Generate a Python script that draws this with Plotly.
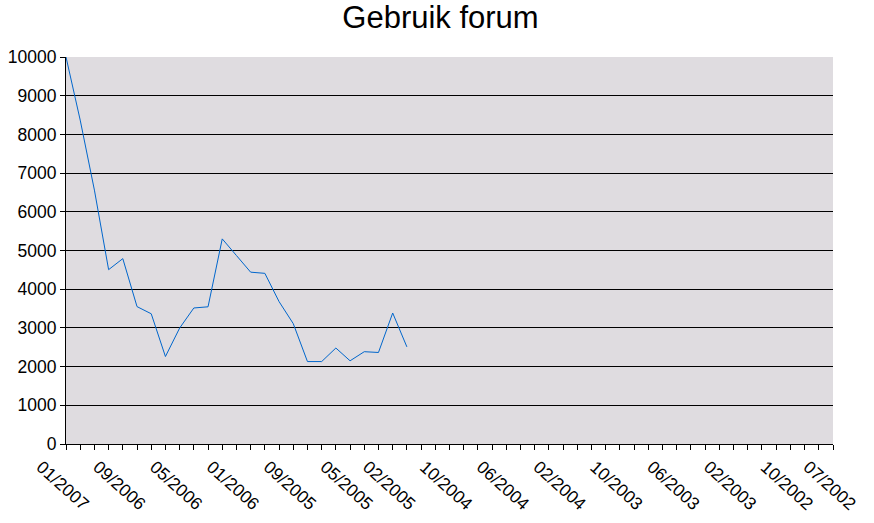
import plotly.graph_objects as go

# Monthly categories, newest first: 01/2007 back to 07/2002
months = []
y_, m_ = 2007, 1
for _ in range(55):
    months.append(f"{m_:02d}/{y_}")
    m_ -= 1
    if m_ == 0:
        m_ = 12
        y_ -= 1

# Forum usage per month (first 25 months have data)
usage = [10000, 8370, 6560, 4505, 4790, 3550, 3365, 2260, 2995, 3515,
         3545, 5300, 4870, 4440, 4410, 3680, 3110, 2130, 2130, 2480,
         2150, 2385, 2365, 3385, 2510]

# Labels that are shown on the category axis
shown_labels = ["01/2007", "09/2006", "05/2006", "01/2006", "09/2005", "05/2005",
                "02/2005", "10/2004", "06/2004", "02/2004", "10/2003", "06/2003",
                "02/2003", "10/2002", "07/2002"]

ticktext = [m if m in shown_labels else "" for m in months]

fig = go.Figure()
fig.add_trace(go.Scatter(
    x=months[:len(usage)], y=usage, mode="lines",
    line=dict(color="#0066cc", width=1), showlegend=False,
))

FONT = "Liberation Sans, Arial, sans-serif"
fig.update_layout(
    width=874, height=523,
    margin=dict(l=66, r=41, t=57, b=79, autoexpand=False),
    paper_bgcolor="white",
    plot_bgcolor="#dfdce0",
    font=dict(family=FONT, color="black"),
    title=dict(text="Gebruik forum", x=0.504, xanchor="center",
               y=1 - 17 / 523, yanchor="middle", yref="container",
               font=dict(size=31, family=FONT, color="black")),
)
fig.update_xaxes(
    type="category", categoryorder="array", categoryarray=months,
    range=[0, len(months) - 1], automargin=False,
    tickmode="array", tickvals=months, ticktext=ticktext,
    tickangle=42, ticklabelshift=-25,
    ticks="outside", ticklen=5, tickcolor="black", tickwidth=1,
    showline=True, linecolor="black", linewidth=1,
    showgrid=False, zeroline=False,
    tickfont=dict(size=17.5, family=FONT, color="black"),
)
fig.update_yaxes(
    range=[0, 10000], dtick=1000, tick0=0, tickformat="d", automargin=False,
    ticks="outside", ticklen=5, tickcolor="black", tickwidth=1,
    showline=True, linecolor="black", linewidth=1,
    showgrid=True, gridcolor="black", gridwidth=1,
    zeroline=False,
    tickfont=dict(size=17.5, family=FONT, color="black"),
)
fig.write_html("out.html",
               config={"displayModeBar": False},
               post_script="document.body.style.margin='0';")
